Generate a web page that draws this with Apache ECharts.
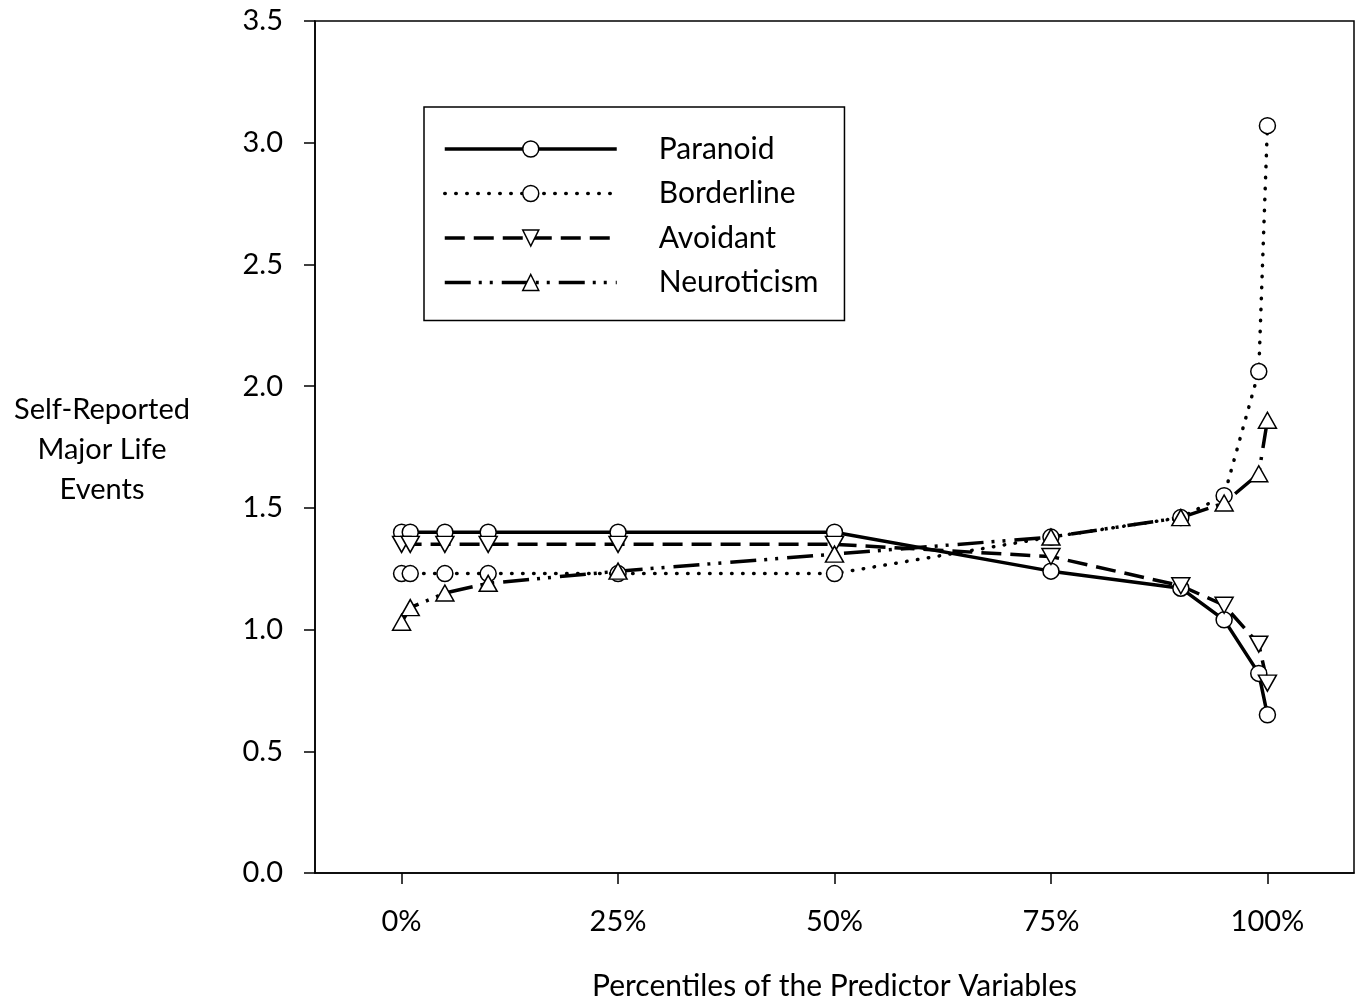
<!DOCTYPE html>
<html>
<head>
<meta charset="utf-8">
<script src="https://cdn.jsdelivr.net/npm/echarts@6/dist/echarts.min.js"></script>
<style>
  html, body { margin: 0; padding: 0; background: #fff; }
  #chart { width: 1363px; height: 1006px; }
</style>
</head>
<body>
<div id="chart"></div>
<script>
// percentiles of the predictor variables
const percentiles = [0, 1, 5, 10, 25, 50, 75, 90, 95, 99, 100];
const paranoid    = [1.40, 1.40, 1.40, 1.40, 1.40, 1.40, 1.24, 1.17, 1.04, 0.82, 0.65];
const borderline  = [1.23, 1.23, 1.23, 1.23, 1.23, 1.23, 1.38, 1.46, 1.55, 2.06, 3.07];
const avoidant    = [1.35, 1.35, 1.35, 1.35, 1.35, 1.35, 1.30, 1.18, 1.10, 0.94, 0.78];
const neuroticism = [1.03, 1.09, 1.15, 1.19, 1.24, 1.31, 1.38, 1.46, 1.52, 1.64, 1.86];
const xTicks = [0, 25, 50, 75, 100];

const FONT = 'Lato';

function pairs(ys) {
    let out = [];
    for (let i in percentiles) {
        out.push([percentiles[i], ys[i]]);
    }
    return out;
}

function makeSeries(name, ys, symbol, rotate, dash, cap) {
    return {
        name: name,
        type: 'line',
        data: pairs(ys),
        symbol: symbol,
        symbolSize: symbol === 'circle' ? 16 : [18, 16],
        symbolRotate: rotate,
        showAllSymbol: true,
        lineStyle: { color: '#000', width: 3.5, type: dash, cap: cap || 'butt' },
        itemStyle: { color: '#fff', borderColor: '#000', borderWidth: 1.5 },
        emphasis: { disabled: true },
        animation: false
    };
}

let option = {
    backgroundColor: '#fff',
    textStyle: { fontFamily: FONT, color: '#000' },
    grid: {
        left: 315, right: 9, top: 21, bottom: 123,
        show: true, borderColor: '#000', borderWidth: 1.5, backgroundColor: 'transparent'
    },
    legend: {
        left: 424, top: 107,
        orient: 'vertical',
        itemWidth: 172, itemHeight: 20,
        itemGap: 14.5,
        padding: [27, 26, 23, 19],
        borderColor: '#000', borderWidth: 1.5,
        lineStyle: { width: 3.5 },
        itemStyle: { borderWidth: 1.5 },
        textStyle: { fontFamily: FONT, fontSize: 30, color: '#000', padding: [0, 0, 0, 37], height: 30, lineHeight: 30 },
        data: ['Paranoid', 'Borderline', 'Avoidant', 'Neuroticism']
    },
    xAxis: {
        type: 'value',
        min: -10, max: 110,
        splitLine: { show: false },
        axisLine: { onZero: false, lineStyle: { color: '#000', width: 1.5 } },
        axisTick: { show: true, length: 11, customValues: xTicks, lineStyle: { color: '#000', width: 1.5 } },
        axisLabel: {
            customValues: xTicks, margin: 34, fontSize: 29, color: '#000', fontFamily: FONT,
            formatter: function (v) { return v + '%'; }
        },
        name: 'Percentiles of the Predictor Variables',
        nameLocation: 'middle',
        nameGap: 98,
        nameTextStyle: { fontSize: 30, color: '#000', fontFamily: FONT }
    },
    yAxis: {
        type: 'value',
        min: 0, max: 3.5, interval: 0.5,
        splitLine: { show: false },
        axisLine: { show: true, onZero: false, lineStyle: { color: '#000', width: 1.5 } },
        axisTick: { show: true, length: 11, lineStyle: { color: '#000', width: 1.5 } },
        axisLabel: {
            margin: 32, fontSize: 29, color: '#000', fontFamily: FONT,
            formatter: function (v) { return v.toFixed(1); }
        }
    },
    graphic: [{
        type: 'text',
        x: 102, y: 450,
        style: {
            text: 'Self-Reported\nMajor Life\nEvents',
            align: 'center', verticalAlign: 'middle',
            font: '29px ' + FONT, fill: '#000', lineHeight: 40
        }
    }],
    series: [
        makeSeries('Paranoid', paranoid, 'circle', 0, 'solid'),
        makeSeries('Borderline', borderline, 'circle', 0, [0.5, 10.5], 'round'),
        makeSeries('Avoidant', avoidant, 'triangle', 180, [20, 9]),
        makeSeries('Neuroticism', neuroticism, 'triangle', 0, [26, 8, 3, 8, 3, 9])
    ]
};

let myChart = echarts.init(document.getElementById('chart'));
myChart.setOption(option);
</script>
</body>
</html>
